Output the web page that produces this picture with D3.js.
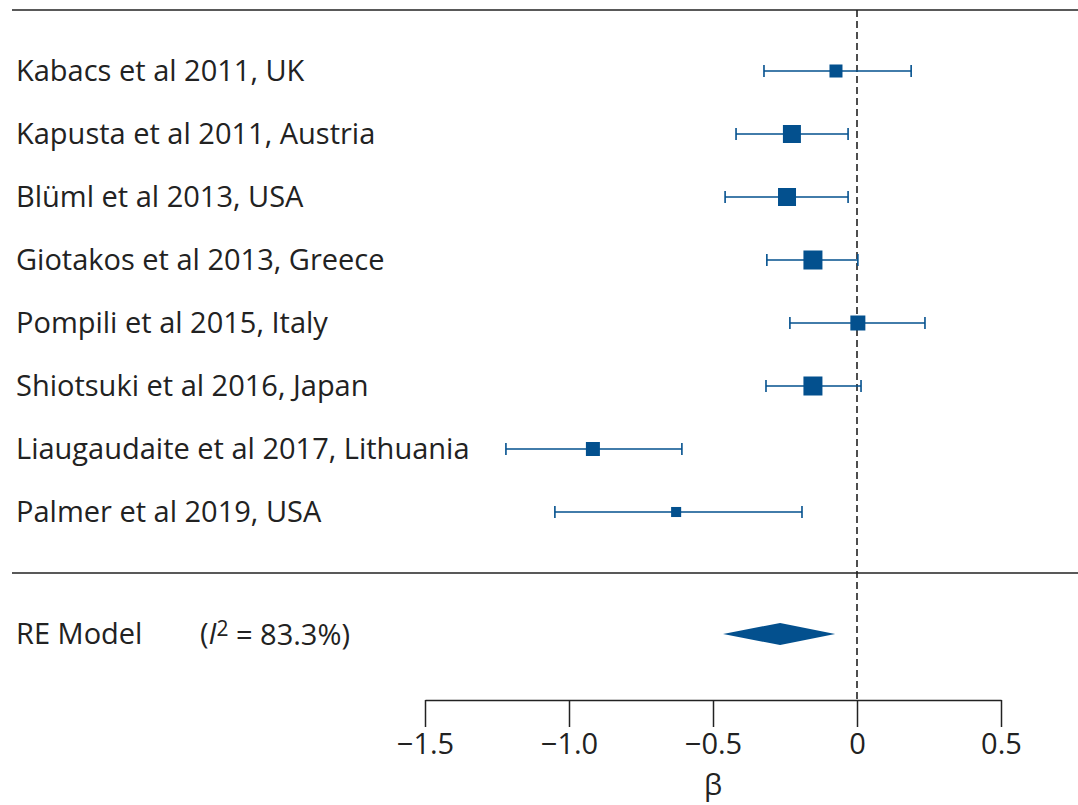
<!DOCTYPE html>
<html>
<head>
<meta charset="utf-8">
<script src="https://cdn.jsdelivr.net/npm/d3@7"></script>
<style>
  body { margin: 0; background: #fff; }
  text { font-family: "Open Sans", "Noto Sans", sans-serif; fill: #222; }
</style>
</head>
<body>
<div id="chart"></div>
<script>
// Study data (beta with 95% CI, relative weight %)
const studies = [
  "Kabacs et al 2011, UK",
  "Kapusta et al 2011, Austria",
  "Blüml et al 2013, USA",
  "Giotakos et al 2013, Greece",
  "Pompili et al 2015, Italy",
  "Shiotsuki et al 2016, Japan",
  "Liaugaudaite et al 2017, Lithuania",
  "Palmer et al 2019, USA"
];
const beta  = [-0.073, -0.226, -0.243, -0.153, 0.003, -0.153, -0.917, -0.628];
const lower = [-0.323, -0.420, -0.458, -0.313, -0.233, -0.316, -1.219, -1.049];
const upper = [ 0.188, -0.031, -0.031,  0.003,  0.236,  0.014, -0.608, -0.191];
const weight = [8.2, 15.7, 15.7, 17.5, 10.9, 17.5, 9.5, 4.9];

// Random-effects summary
const reModel = {est: -0.267, lo: -0.465, hi: -0.076};
const i2 = "83.3%";
const xTicks = [-1.5, -1.0, -0.5, 0, 0.5];

const width = 1078, height = 805;
const blue = "#03508e";
const fontSize = "29px";

const svg = d3.select("#chart").append("svg")
  .attr("width", width)
  .attr("height", height);

// Scales
const x = d3.scaleLinear().domain([-1.5, 0.5]).range([425, 1001]);
const y = d3.scalePoint().domain(studies).range([71, 512]);
const size = d3.scaleSqrt().domain([0, d3.max(weight)]).range([0, 19]);
const yRE = 634, axisY = 700;

const data = studies.map((s, i) => ({study: s, b: beta[i], lo: lower[i], hi: upper[i], w: weight[i]}));

// Separator lines
svg.append("line").attr("x1", 12).attr("x2", width).attr("y1", 10).attr("y2", 10)
  .attr("stroke", "#222").attr("stroke-width", 1.5);
svg.append("line").attr("x1", 12).attr("x2", width).attr("y1", 573).attr("y2", 573)
  .attr("stroke", "#222").attr("stroke-width", 1.5);

// Reference line at zero
svg.append("line")
  .attr("x1", x(0)).attr("x2", x(0))
  .attr("y1", 10).attr("y2", axisY)
  .attr("stroke", "#222").attr("stroke-width", 1.6)
  .attr("stroke-dasharray", "7,4");

// Study labels
svg.selectAll("text.study")
  .data(data)
  .join("text")
  .attr("class", "study")
  .attr("x", 16)
  .attr("y", d => y(d.study))
  .attr("dy", "0.36em")
  .style("font-size", fontSize)
  .text(d => d.study);

// CI lines and caps
const rows = svg.selectAll("g.row").data(data).join("g").attr("class", "row");
rows.append("line")
  .attr("x1", d => x(d.lo)).attr("x2", d => x(d.hi))
  .attr("y1", d => y(d.study)).attr("y2", d => y(d.study))
  .attr("stroke", blue).attr("stroke-width", 1.6);
rows.append("line")
  .attr("x1", d => x(d.lo)).attr("x2", d => x(d.lo))
  .attr("y1", d => y(d.study) - 6).attr("y2", d => y(d.study) + 6)
  .attr("stroke", blue).attr("stroke-width", 1.6);
rows.append("line")
  .attr("x1", d => x(d.hi)).attr("x2", d => x(d.hi))
  .attr("y1", d => y(d.study) - 6).attr("y2", d => y(d.study) + 6)
  .attr("stroke", blue).attr("stroke-width", 1.6);
rows.append("rect")
  .attr("x", d => x(d.b) - size(d.w) / 2)
  .attr("y", d => y(d.study) - size(d.w) / 2)
  .attr("width", d => size(d.w))
  .attr("height", d => size(d.w))
  .attr("fill", blue);

// RE model diamond
svg.append("path")
  .attr("d", `M${x(reModel.lo)},${yRE} L${x(reModel.est)},${yRE - 11} L${x(reModel.hi)},${yRE} L${x(reModel.est)},${yRE + 11} Z`)
  .attr("fill", blue);

svg.append("text")
  .attr("x", 16).attr("y", yRE).attr("dy", "0.36em")
  .style("font-size", fontSize)
  .text("RE Model");

const reLabel = svg.append("text")
  .attr("x", 200).attr("y", yRE).attr("dy", "0.36em")
  .style("font-size", fontSize);
reLabel.append("tspan").text("(");
reLabel.append("tspan").style("font-style", "italic").text("I");
reLabel.append("tspan").attr("dy", "-0.4em").style("font-size", "21px").text("2");
reLabel.append("tspan").attr("dy", "0.3em").text(" = " + i2 + ")");

// Axis
const axis = svg.append("g")
  .attr("transform", `translate(0,${axisY})`)
  .call(d3.axisBottom(x)
    .tickValues(xTicks)
    .tickSize(27)
    .tickSizeOuter(0)
    .tickPadding(6)
    .tickFormat(d => d === 0 ? "0" : d3.format(".1f")(d)));
axis.select(".domain").attr("stroke", "#222").attr("stroke-width", 1.5);
axis.selectAll(".tick line").attr("stroke", "#222").attr("stroke-width", 1.5);
axis.selectAll(".tick text")
  .style("font-size", fontSize)
  .style("font-family", "'Open Sans', 'Noto Sans', sans-serif")
  .attr("fill", "#222");

svg.append("text")
  .attr("x", x(-0.5)).attr("y", 786)
  .attr("text-anchor", "middle")
  .attr("dy", "0.32em")
  .style("font-size", fontSize)
  .text("β");
</script>
</body>
</html>
